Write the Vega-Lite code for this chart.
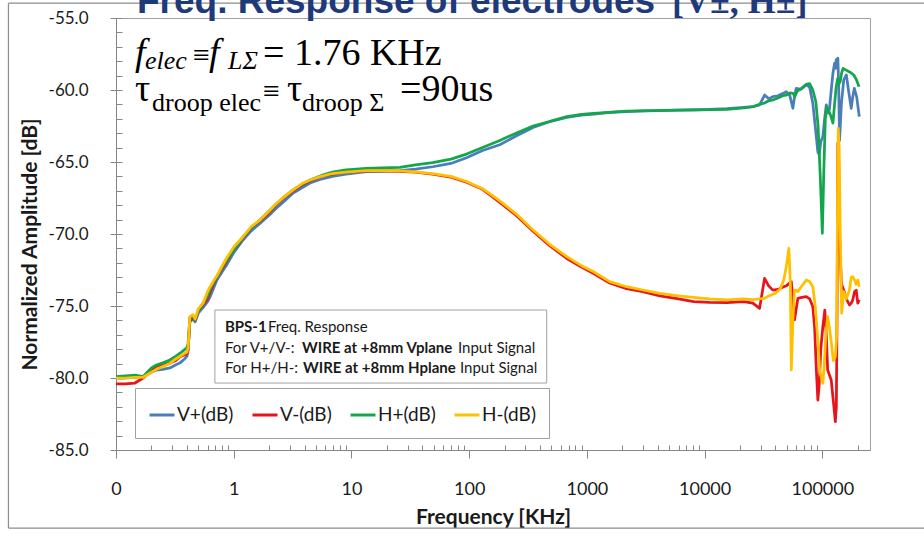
{
"$schema": "https://vega.github.io/schema/vega-lite/v6.json",
"width": 754, "height": 432,
"autosize": {"type": "none"},
"padding": {"left": 116, "top": 18, "right": 54, "bottom": 91},
"background": "white",
"config": {"view": {"stroke": "#A0A0A0", "strokeWidth": 1},
  "legend": {"orient": "none", "legendX": 19, "legendY": 370, "direction": "horizontal", "columns": 4, "symbolType": "stroke", "symbolSize": 625, "symbolStrokeWidth": 3, "labelFont": "Lato", "labelFontSize": 19, "labelColor": "#1a1a1a", "labelOffset": 1, "columnPadding": 12, "padding": 13, "strokeColor": "#A0A0A0", "fillColor": "white", "labelLimit": 200}},
"datasets": {
"one": [{}],
"curves": [
{"s":"V+(dB)","f":0.1,"v":-80.0},{"s":"V+(dB)","f":0.12,"v":-80.0},{"s":"V+(dB)","f":0.145,"v":-79.95},{"s":"V+(dB)","f":0.17,"v":-79.9},{"s":"V+(dB)","f":0.2,"v":-79.6},{"s":"V+(dB)","f":0.22,"v":-79.45},{"s":"V+(dB)","f":0.25,"v":-79.4},{"s":"V+(dB)","f":0.287,"v":-79.3},{"s":"V+(dB)","f":0.32,"v":-79.1},{"s":"V+(dB)","f":0.35,"v":-78.95},{"s":"V+(dB)","f":0.38,"v":-78.7},{"s":"V+(dB)","f":0.4,"v":-78.5},{"s":"V+(dB)","f":0.41,"v":-78.1},{"s":"V+(dB)","f":0.424,"v":-76.1},{"s":"V+(dB)","f":0.45,"v":-75.9},{"s":"V+(dB)","f":0.47,"v":-76.1},{"s":"V+(dB)","f":0.5,"v":-75.5},{"s":"V+(dB)","f":0.55,"v":-75.1},{"s":"V+(dB)","f":0.6,"v":-74.7},{"s":"V+(dB)","f":0.63,"v":-74.35},{"s":"V+(dB)","f":0.68,"v":-73.7},{"s":"V+(dB)","f":0.72,"v":-73.2},{"s":"V+(dB)","f":0.8,"v":-72.6},{"s":"V+(dB)","f":0.87,"v":-72.15},{"s":"V+(dB)","f":1,"v":-71.3},{"s":"V+(dB)","f":1.2,"v":-70.42},{"s":"V+(dB)","f":1.4,"v":-69.8},{"s":"V+(dB)","f":1.67,"v":-69.26},{"s":"V+(dB)","f":2,"v":-68.7},{"s":"V+(dB)","f":2.31,"v":-68.2},{"s":"V+(dB)","f":2.7,"v":-67.7},{"s":"V+(dB)","f":3.2,"v":-67.15},{"s":"V+(dB)","f":3.8,"v":-66.8},{"s":"V+(dB)","f":4.45,"v":-66.46},{"s":"V+(dB)","f":5.5,"v":-66.2},{"s":"V+(dB)","f":6.9,"v":-66.0},{"s":"V+(dB)","f":9,"v":-65.85},{"s":"V+(dB)","f":13.4,"v":-65.67},{"s":"V+(dB)","f":18,"v":-65.65},{"s":"V+(dB)","f":25.8,"v":-65.6},{"s":"V+(dB)","f":35,"v":-65.5},{"s":"V+(dB)","f":49,"v":-65.33},{"s":"V+(dB)","f":70,"v":-65.1},{"s":"V+(dB)","f":95,"v":-64.7},{"s":"V+(dB)","f":130,"v":-64.2},{"s":"V+(dB)","f":182,"v":-63.8},{"s":"V+(dB)","f":250,"v":-63.2},{"s":"V+(dB)","f":349,"v":-62.6},{"s":"V+(dB)","f":480,"v":-62.2},{"s":"V+(dB)","f":675,"v":-61.9},{"s":"V+(dB)","f":900,"v":-61.75},{"s":"V+(dB)","f":1140,"v":-61.67},{"s":"V+(dB)","f":1560,"v":-61.55},{"s":"V+(dB)","f":2170,"v":-61.5},{"s":"V+(dB)","f":2980,"v":-61.45},{"s":"V+(dB)","f":4170,"v":-61.42},{"s":"V+(dB)","f":6000,"v":-61.4},{"s":"V+(dB)","f":8070,"v":-61.37},{"s":"V+(dB)","f":11000,"v":-61.35},{"s":"V+(dB)","f":15500,"v":-61.3},{"s":"V+(dB)","f":21500,"v":-61.2},{"s":"V+(dB)","f":25700,"v":-61.15},
{"s":"V+(dB)","f":29300,"v":-61.04},{"s":"V+(dB)","f":32300,"v":-60.35},{"s":"V+(dB)","f":35000,"v":-60.6},{"s":"V+(dB)","f":38000,"v":-60.46},{"s":"V+(dB)","f":42000,"v":-60.4},{"s":"V+(dB)","f":46000,"v":-60.25},{"s":"V+(dB)","f":49400,"v":-60.12},{"s":"V+(dB)","f":53000,"v":-60.4},{"s":"V+(dB)","f":56200,"v":-61.27},{"s":"V+(dB)","f":58500,"v":-60.3},{"s":"V+(dB)","f":60000,"v":-59.88},{"s":"V+(dB)","f":66000,"v":-59.95},{"s":"V+(dB)","f":73000,"v":-59.65},{"s":"V+(dB)","f":78000,"v":-59.8},{"s":"V+(dB)","f":83000,"v":-60.92},{"s":"V+(dB)","f":87000,"v":-62.5},{"s":"V+(dB)","f":91600,"v":-64.3},{"s":"V+(dB)","f":94000,"v":-64.5},{"s":"V+(dB)","f":97000,"v":-63.6},{"s":"V+(dB)","f":101000,"v":-63.24},{"s":"V+(dB)","f":104500,"v":-62.0},{"s":"V+(dB)","f":108000,"v":-61.04},{"s":"V+(dB)","f":111500,"v":-61.6},{"s":"V+(dB)","f":115000,"v":-61.3},{"s":"V+(dB)","f":119000,"v":-60.0},{"s":"V+(dB)","f":123000,"v":-58.84},{"s":"V+(dB)","f":127000,"v":-58.15},{"s":"V+(dB)","f":129500,"v":-58.5},{"s":"V+(dB)","f":131000,"v":-57.92},{"s":"V+(dB)","f":135500,"v":-57.8},{"s":"V+(dB)","f":137500,"v":-59.5},{"s":"V+(dB)","f":140000,"v":-63.5},{"s":"V+(dB)","f":145000,"v":-61.0},{"s":"V+(dB)","f":152000,"v":-59.3},{"s":"V+(dB)","f":160000,"v":-58.96},{"s":"V+(dB)","f":168000,"v":-60.2},{"s":"V+(dB)","f":176000,"v":-61.27},{"s":"V+(dB)","f":181000,"v":-60.5},{"s":"V+(dB)","f":187000,"v":-59.88},{"s":"V+(dB)","f":196000,"v":-60.5},{"s":"V+(dB)","f":201000,"v":-61.2},{"s":"V+(dB)","f":206000,"v":-61.85},
{"s":"V-(dB)","f":0.1,"v":-80.4},{"s":"V-(dB)","f":0.12,"v":-80.4},{"s":"V-(dB)","f":0.145,"v":-80.35},{"s":"V-(dB)","f":0.17,"v":-80.0},{"s":"V-(dB)","f":0.2,"v":-79.5},{"s":"V-(dB)","f":0.22,"v":-79.2},{"s":"V-(dB)","f":0.25,"v":-79.1},{"s":"V-(dB)","f":0.287,"v":-78.96},{"s":"V-(dB)","f":0.32,"v":-78.8},{"s":"V-(dB)","f":0.35,"v":-78.52},{"s":"V-(dB)","f":0.38,"v":-78.4},{"s":"V-(dB)","f":0.4,"v":-78.3},{"s":"V-(dB)","f":0.41,"v":-78.0},{"s":"V-(dB)","f":0.424,"v":-76.0},{"s":"V-(dB)","f":0.45,"v":-75.8},{"s":"V-(dB)","f":0.47,"v":-76.0},{"s":"V-(dB)","f":0.5,"v":-75.3},{"s":"V-(dB)","f":0.55,"v":-74.9},{"s":"V-(dB)","f":0.6,"v":-74.5},{"s":"V-(dB)","f":0.63,"v":-74.0},{"s":"V-(dB)","f":0.68,"v":-73.4},{"s":"V-(dB)","f":0.72,"v":-72.96},{"s":"V-(dB)","f":0.8,"v":-72.4},{"s":"V-(dB)","f":0.87,"v":-71.9},{"s":"V-(dB)","f":1,"v":-71.1},{"s":"V-(dB)","f":1.2,"v":-70.25},{"s":"V-(dB)","f":1.4,"v":-69.6},{"s":"V-(dB)","f":1.67,"v":-69.1},{"s":"V-(dB)","f":2,"v":-68.5},{"s":"V-(dB)","f":2.31,"v":-67.95},{"s":"V-(dB)","f":2.7,"v":-67.45},{"s":"V-(dB)","f":3.2,"v":-67.0},{"s":"V-(dB)","f":3.8,"v":-66.6},{"s":"V-(dB)","f":4.45,"v":-66.3},{"s":"V-(dB)","f":5.5,"v":-66.0},{"s":"V-(dB)","f":6.9,"v":-65.85},{"s":"V-(dB)","f":9,"v":-65.7},{"s":"V-(dB)","f":13.4,"v":-65.62},{"s":"V-(dB)","f":18,"v":-65.62},{"s":"V-(dB)","f":25.8,"v":-65.65},{"s":"V-(dB)","f":35,"v":-65.7},{"s":"V-(dB)","f":49,"v":-65.85},{"s":"V-(dB)","f":70,"v":-66.05},{"s":"V-(dB)","f":95,"v":-66.4},{"s":"V-(dB)","f":130,"v":-66.9},{"s":"V-(dB)","f":182,"v":-67.8},{"s":"V-(dB)","f":250,"v":-68.7},{"s":"V-(dB)","f":349,"v":-69.8},{"s":"V-(dB)","f":480,"v":-70.8},{"s":"V-(dB)","f":675,"v":-71.7},{"s":"V-(dB)","f":900,"v":-72.3},{"s":"V-(dB)","f":1140,"v":-72.75},{"s":"V-(dB)","f":1560,"v":-73.4},{"s":"V-(dB)","f":2170,"v":-73.8},{"s":"V-(dB)","f":2980,"v":-74.0},{"s":"V-(dB)","f":4170,"v":-74.3},{"s":"V-(dB)","f":6000,"v":-74.5},{"s":"V-(dB)","f":8070,"v":-74.7},{"s":"V-(dB)","f":11000,"v":-74.75},{"s":"V-(dB)","f":15500,"v":-74.77},{"s":"V-(dB)","f":21500,"v":-74.7},{"s":"V-(dB)","f":25700,"v":-74.8},
{"s":"V-(dB)","f":29300,"v":-75.16},{"s":"V-(dB)","f":32300,"v":-73.08},{"s":"V-(dB)","f":35000,"v":-73.6},{"s":"V-(dB)","f":38000,"v":-73.9},{"s":"V-(dB)","f":42000,"v":-73.85},{"s":"V-(dB)","f":46000,"v":-73.7},{"s":"V-(dB)","f":49400,"v":-73.6},{"s":"V-(dB)","f":52000,"v":-73.45},{"s":"V-(dB)","f":54500,"v":-73.31},{"s":"V-(dB)","f":56200,"v":-74.5},{"s":"V-(dB)","f":58000,"v":-75.97},{"s":"V-(dB)","f":60000,"v":-75.2},{"s":"V-(dB)","f":62000,"v":-74.47},{"s":"V-(dB)","f":67000,"v":-74.4},{"s":"V-(dB)","f":73000,"v":-74.35},{"s":"V-(dB)","f":78000,"v":-74.5},{"s":"V-(dB)","f":83000,"v":-75.05},{"s":"V-(dB)","f":86000,"v":-76.5},{"s":"V-(dB)","f":89000,"v":-79.5},{"s":"V-(dB)","f":91600,"v":-81.53},{"s":"V-(dB)","f":94000,"v":-80.5},{"s":"V-(dB)","f":97000,"v":-78.0},{"s":"V-(dB)","f":101000,"v":-76.44},{"s":"V-(dB)","f":105000,"v":-75.28},{"s":"V-(dB)","f":108000,"v":-77.0},{"s":"V-(dB)","f":111000,"v":-79.44},{"s":"V-(dB)","f":115000,"v":-79.8},{"s":"V-(dB)","f":119000,"v":-80.14},{"s":"V-(dB)","f":124000,"v":-81.6},{"s":"V-(dB)","f":129000,"v":-83.03},{"s":"V-(dB)","f":131500,"v":-82.0},{"s":"V-(dB)","f":133500,"v":-75.0},{"s":"V-(dB)","f":135500,"v":-63.7},{"s":"V-(dB)","f":137500,"v":-64.5},{"s":"V-(dB)","f":140000,"v":-70.0},{"s":"V-(dB)","f":145000,"v":-73.43},{"s":"V-(dB)","f":152000,"v":-73.9},{"s":"V-(dB)","f":160000,"v":-74.5},{"s":"V-(dB)","f":170000,"v":-74.93},{"s":"V-(dB)","f":176000,"v":-74.8},{"s":"V-(dB)","f":181000,"v":-74.6},{"s":"V-(dB)","f":188000,"v":-74.0},{"s":"V-(dB)","f":194000,"v":-73.9},{"s":"V-(dB)","f":200000,"v":-74.8},{"s":"V-(dB)","f":206000,"v":-74.58},
{"s":"H+(dB)","f":0.1,"v":-79.9},{"s":"H+(dB)","f":0.12,"v":-79.85},{"s":"H+(dB)","f":0.145,"v":-79.8},{"s":"H+(dB)","f":0.17,"v":-79.9},{"s":"H+(dB)","f":0.2,"v":-79.3},{"s":"H+(dB)","f":0.22,"v":-79.1},{"s":"H+(dB)","f":0.25,"v":-78.95},{"s":"H+(dB)","f":0.287,"v":-78.75},{"s":"H+(dB)","f":0.32,"v":-78.5},{"s":"H+(dB)","f":0.35,"v":-78.28},{"s":"H+(dB)","f":0.38,"v":-78.05},{"s":"H+(dB)","f":0.4,"v":-77.9},{"s":"H+(dB)","f":0.41,"v":-77.6},{"s":"H+(dB)","f":0.424,"v":-75.8},{"s":"H+(dB)","f":0.45,"v":-75.7},{"s":"H+(dB)","f":0.47,"v":-76.0},{"s":"H+(dB)","f":0.5,"v":-75.3},{"s":"H+(dB)","f":0.55,"v":-74.8},{"s":"H+(dB)","f":0.6,"v":-74.3},{"s":"H+(dB)","f":0.63,"v":-73.8},{"s":"H+(dB)","f":0.68,"v":-73.3},{"s":"H+(dB)","f":0.72,"v":-72.96},{"s":"H+(dB)","f":0.8,"v":-72.3},{"s":"H+(dB)","f":0.87,"v":-71.8},{"s":"H+(dB)","f":1,"v":-71.1},{"s":"H+(dB)","f":1.2,"v":-70.2},{"s":"H+(dB)","f":1.4,"v":-69.6},{"s":"H+(dB)","f":1.67,"v":-69.03},{"s":"H+(dB)","f":2,"v":-68.4},{"s":"H+(dB)","f":2.31,"v":-67.9},{"s":"H+(dB)","f":2.7,"v":-67.4},{"s":"H+(dB)","f":3.2,"v":-66.94},{"s":"H+(dB)","f":3.8,"v":-66.55},{"s":"H+(dB)","f":4.45,"v":-66.25},{"s":"H+(dB)","f":5.5,"v":-65.95},{"s":"H+(dB)","f":6.9,"v":-65.7},{"s":"H+(dB)","f":9,"v":-65.55},{"s":"H+(dB)","f":13.4,"v":-65.45},{"s":"H+(dB)","f":18,"v":-65.4},{"s":"H+(dB)","f":25.8,"v":-65.37},{"s":"H+(dB)","f":35,"v":-65.2},{"s":"H+(dB)","f":49,"v":-65.05},{"s":"H+(dB)","f":70,"v":-64.8},{"s":"H+(dB)","f":95,"v":-64.45},{"s":"H+(dB)","f":130,"v":-64.0},{"s":"H+(dB)","f":182,"v":-63.5},{"s":"H+(dB)","f":250,"v":-63.0},{"s":"H+(dB)","f":349,"v":-62.5},{"s":"H+(dB)","f":480,"v":-62.2},{"s":"H+(dB)","f":675,"v":-61.85},{"s":"H+(dB)","f":900,"v":-61.7},{"s":"H+(dB)","f":1140,"v":-61.62},{"s":"H+(dB)","f":1560,"v":-61.55},{"s":"H+(dB)","f":2170,"v":-61.46},{"s":"H+(dB)","f":2980,"v":-61.45},{"s":"H+(dB)","f":4170,"v":-61.44},{"s":"H+(dB)","f":6000,"v":-61.4},{"s":"H+(dB)","f":8070,"v":-61.39},{"s":"H+(dB)","f":11000,"v":-61.36},{"s":"H+(dB)","f":15500,"v":-61.34},{"s":"H+(dB)","f":21500,"v":-61.25},{"s":"H+(dB)","f":25700,"v":-61.16},
{"s":"H+(dB)","f":29300,"v":-61.0},{"s":"H+(dB)","f":32300,"v":-60.9},{"s":"H+(dB)","f":35000,"v":-60.75},{"s":"H+(dB)","f":38000,"v":-60.69},{"s":"H+(dB)","f":42000,"v":-60.55},{"s":"H+(dB)","f":46000,"v":-60.4},{"s":"H+(dB)","f":49400,"v":-60.35},{"s":"H+(dB)","f":53000,"v":-60.2},{"s":"H+(dB)","f":56200,"v":-60.23},{"s":"H+(dB)","f":58500,"v":-60.45},{"s":"H+(dB)","f":61000,"v":-60.1},{"s":"H+(dB)","f":66000,"v":-59.9},{"s":"H+(dB)","f":73000,"v":-59.6},{"s":"H+(dB)","f":78000,"v":-59.55},{"s":"H+(dB)","f":83000,"v":-60.0},{"s":"H+(dB)","f":88000,"v":-60.8},{"s":"H+(dB)","f":92000,"v":-62.5},{"s":"H+(dB)","f":96000,"v":-66.0},{"s":"H+(dB)","f":100000,"v":-69.95},{"s":"H+(dB)","f":103000,"v":-65.5},{"s":"H+(dB)","f":106000,"v":-62.0},{"s":"H+(dB)","f":109000,"v":-61.16},{"s":"H+(dB)","f":113000,"v":-61.4},{"s":"H+(dB)","f":118000,"v":-61.8},{"s":"H+(dB)","f":123000,"v":-62.3},{"s":"H+(dB)","f":127000,"v":-61.0},{"s":"H+(dB)","f":131000,"v":-59.8},{"s":"H+(dB)","f":135000,"v":-59.2},{"s":"H+(dB)","f":138000,"v":-59.6},{"s":"H+(dB)","f":142000,"v":-59.4},{"s":"H+(dB)","f":146000,"v":-58.8},{"s":"H+(dB)","f":150000,"v":-58.5},{"s":"H+(dB)","f":158000,"v":-58.6},{"s":"H+(dB)","f":166000,"v":-58.7},{"s":"H+(dB)","f":175000,"v":-58.8},{"s":"H+(dB)","f":185000,"v":-58.96},{"s":"H+(dB)","f":195000,"v":-59.3},{"s":"H+(dB)","f":205000,"v":-59.77},
{"s":"H-(dB)","f":0.1,"v":-80.0},{"s":"H-(dB)","f":0.12,"v":-80.0},{"s":"H-(dB)","f":0.145,"v":-79.95},{"s":"H-(dB)","f":0.17,"v":-79.95},{"s":"H-(dB)","f":0.2,"v":-79.6},{"s":"H-(dB)","f":0.22,"v":-79.4},{"s":"H-(dB)","f":0.25,"v":-79.2},{"s":"H-(dB)","f":0.287,"v":-79.0},{"s":"H-(dB)","f":0.32,"v":-78.7},{"s":"H-(dB)","f":0.35,"v":-78.5},{"s":"H-(dB)","f":0.38,"v":-78.3},{"s":"H-(dB)","f":0.4,"v":-78.2},{"s":"H-(dB)","f":0.41,"v":-77.9},{"s":"H-(dB)","f":0.424,"v":-75.74},{"s":"H-(dB)","f":0.45,"v":-75.6},{"s":"H-(dB)","f":0.47,"v":-75.9},{"s":"H-(dB)","f":0.5,"v":-75.2},{"s":"H-(dB)","f":0.55,"v":-74.8},{"s":"H-(dB)","f":0.6,"v":-74.0},{"s":"H-(dB)","f":0.63,"v":-73.66},{"s":"H-(dB)","f":0.68,"v":-73.2},{"s":"H-(dB)","f":0.72,"v":-72.9},{"s":"H-(dB)","f":0.8,"v":-72.2},{"s":"H-(dB)","f":0.87,"v":-71.67},{"s":"H-(dB)","f":1,"v":-70.9},{"s":"H-(dB)","f":1.2,"v":-70.19},{"s":"H-(dB)","f":1.4,"v":-69.5},{"s":"H-(dB)","f":1.67,"v":-69.03},{"s":"H-(dB)","f":2,"v":-68.4},{"s":"H-(dB)","f":2.31,"v":-67.87},{"s":"H-(dB)","f":2.7,"v":-67.4},{"s":"H-(dB)","f":3.2,"v":-66.94},{"s":"H-(dB)","f":3.8,"v":-66.5},{"s":"H-(dB)","f":4.45,"v":-66.25},{"s":"H-(dB)","f":5.5,"v":-66.0},{"s":"H-(dB)","f":6.9,"v":-65.8},{"s":"H-(dB)","f":9,"v":-65.7},{"s":"H-(dB)","f":13.4,"v":-65.6},{"s":"H-(dB)","f":18,"v":-65.6},{"s":"H-(dB)","f":25.8,"v":-65.62},{"s":"H-(dB)","f":35,"v":-65.68},{"s":"H-(dB)","f":49,"v":-65.8},{"s":"H-(dB)","f":70,"v":-66.0},{"s":"H-(dB)","f":95,"v":-66.35},{"s":"H-(dB)","f":130,"v":-66.85},{"s":"H-(dB)","f":182,"v":-67.7},{"s":"H-(dB)","f":250,"v":-68.6},{"s":"H-(dB)","f":349,"v":-69.72},{"s":"H-(dB)","f":480,"v":-70.7},{"s":"H-(dB)","f":675,"v":-71.57},{"s":"H-(dB)","f":900,"v":-72.2},{"s":"H-(dB)","f":1140,"v":-72.62},{"s":"H-(dB)","f":1560,"v":-73.31},{"s":"H-(dB)","f":2170,"v":-73.66},{"s":"H-(dB)","f":2980,"v":-73.89},{"s":"H-(dB)","f":4170,"v":-74.12},{"s":"H-(dB)","f":6000,"v":-74.3},{"s":"H-(dB)","f":8070,"v":-74.4},{"s":"H-(dB)","f":11000,"v":-74.5},{"s":"H-(dB)","f":15500,"v":-74.58},{"s":"H-(dB)","f":21500,"v":-74.5},{"s":"H-(dB)","f":25700,"v":-74.55},
{"s":"H-(dB)","f":29300,"v":-74.5},{"s":"H-(dB)","f":32300,"v":-74.47},{"s":"H-(dB)","f":35000,"v":-74.3},{"s":"H-(dB)","f":40000,"v":-74.12},{"s":"H-(dB)","f":44000,"v":-73.8},{"s":"H-(dB)","f":47000,"v":-73.2},{"s":"H-(dB)","f":49400,"v":-72.27},{"s":"H-(dB)","f":52000,"v":-70.99},{"s":"H-(dB)","f":53500,"v":-73.5},{"s":"H-(dB)","f":54500,"v":-79.44},{"s":"H-(dB)","f":56200,"v":-76.0},{"s":"H-(dB)","f":58000,"v":-73.89},{"s":"H-(dB)","f":60000,"v":-73.9},{"s":"H-(dB)","f":62000,"v":-74.0},{"s":"H-(dB)","f":67000,"v":-73.6},{"s":"H-(dB)","f":73000,"v":-73.2},{"s":"H-(dB)","f":78000,"v":-73.3},{"s":"H-(dB)","f":83000,"v":-73.66},{"s":"H-(dB)","f":87000,"v":-75.0},{"s":"H-(dB)","f":91600,"v":-77.36},{"s":"H-(dB)","f":95000,"v":-79.5},{"s":"H-(dB)","f":101000,"v":-80.37},{"s":"H-(dB)","f":104000,"v":-79.0},{"s":"H-(dB)","f":107000,"v":-77.0},{"s":"H-(dB)","f":111000,"v":-75.74},{"s":"H-(dB)","f":115000,"v":-76.5},{"s":"H-(dB)","f":119000,"v":-77.5},{"s":"H-(dB)","f":124000,"v":-78.8},{"s":"H-(dB)","f":129000,"v":-78.52},{"s":"H-(dB)","f":132500,"v":-77.0},{"s":"H-(dB)","f":134500,"v":-68.0},{"s":"H-(dB)","f":136500,"v":-62.66},{"s":"H-(dB)","f":139000,"v":-64.0},{"s":"H-(dB)","f":142000,"v":-70.0},{"s":"H-(dB)","f":146000,"v":-75.5},{"s":"H-(dB)","f":152000,"v":-74.0},{"s":"H-(dB)","f":160000,"v":-74.5},{"s":"H-(dB)","f":170000,"v":-73.89},{"s":"H-(dB)","f":176000,"v":-73.0},{"s":"H-(dB)","f":181000,"v":-72.96},{"s":"H-(dB)","f":188000,"v":-73.2},{"s":"H-(dB)","f":194000,"v":-73.5},{"s":"H-(dB)","f":200000,"v":-73.2},{"s":"H-(dB)","f":206000,"v":-73.66}
]
},
"resolve": {"axis": {"x": "independent", "y": "independent"}},
"layer": [
{"data": {"name": "one"},
 "encoding": {
  "x": {"datum": 0.0122, "type": "quantitative", "scale": {"type": "log", "domain": [0.1, 254000], "nice": false}, "axis": null},
  "y": {"datum": -53.97, "type": "quantitative", "scale": {"domain": [-85, -55], "nice": false, "zero": false}, "axis": null}},
 "layer": [
  {"mark": {"type": "rule", "stroke": "#8C8C8C", "strokeWidth": 1.2}, "encoding": {"x2": {"datum": 800000}}},
  {"mark": {"type": "rule", "stroke": "#8C8C8C", "strokeWidth": 1.2}, "encoding": {"y2": {"datum": -90.42}}},
  {"mark": {"type": "rule", "stroke": "#8C8C8C", "strokeWidth": 1.2}, "encoding": {"y": {"datum": -90.42, "type": "quantitative", "scale": {"domain": [-85, -55], "nice": false, "zero": false}, "axis": null}, "x2": {"datum": 800000}}}]},
{"data": {"name": "curves"},
 "mark": {"type": "line", "strokeWidth": 2.75, "strokeJoin": "round", "clip": true},
 "encoding": {
  "x": {"field": "f", "type": "quantitative", "scale": {"type": "log", "domain": [0.1, 254000], "nice": false},
    "axis": {"orient": "bottom", "values": [0.1, 1, 10, 100, 1000, 10000, 100000], "labelExpr": "datum.value < 0.5 ? '0' : format(datum.value, 'd')", "tickSize": 8, "labelPadding": 22, "labelFont": "Lato", "labelFontSize": 18, "labelColor": "#1a1a1a", "domainColor": "#868686", "tickColor": "#868686", "grid": false, "title": "Frequency [KHz]", "titleFont": "Lato", "titleFontSize": 21, "titleFontWeight": "bold", "titleColor": "#1a1a1a", "titlePadding": 8, "labelFlush": false, "labelOverlap": false}},
  "y": {"field": "v", "type": "quantitative", "scale": {"domain": [-85, -55], "nice": false, "zero": false},
    "axis": {"orient": "left", "values": [-85, -80, -75, -70, -65, -60, -55], "labelExpr": "replace(format(datum.value, '.1f'), '\u2212', '-')", "tickSize": 6, "labelPadding": 22, "labelFont": "Lato", "labelFontSize": 17, "labelColor": "#1a1a1a", "domainColor": "#868686", "tickColor": "#868686", "grid": false, "title": "Normalized Amplitude [dB]", "titleFont": "Lato", "titleFontSize": 21, "titleFontWeight": "bold", "titleColor": "#1a1a1a", "titlePadding": 8, "titleY": 226, "labelFlush": false, "labelOverlap": false}},
  "color": {"field": "s", "type": "nominal", "sort": null, "scale": {"domain": ["V+(dB)", "V-(dB)", "H+(dB)", "H-(dB)"], "range": ["#4A7EBB", "#E8141B", "#14A64C", "#FFC000"]}, "legend": {"title": null}}}},
{"data": {"name": "one"},
 "mark": {"type": "point", "opacity": 0},
 "encoding": {
  "x": {"datum": 1, "type": "quantitative", "scale": {"type": "log", "domain": [0.1, 254000], "nice": false},
    "axis": {"orient": "bottom", "values": [0.2,0.3,0.4,0.5,0.6,0.7,0.8,0.9,2,3,4,5,6,7,8,9,20,30,40,50,60,70,80,90,200,300,400,500,600,700,800,900,2000,3000,4000,5000,6000,7000,8000,9000,20000,30000,40000,50000,60000,70000,80000,90000,200000], "labels": false, "domain": false, "tickSize": -5, "tickColor": "#868686", "grid": false, "title": null}},
  "y": {"datum": -70, "type": "quantitative", "scale": {"domain": [-85, -55], "nice": false, "zero": false},
    "axis": {"orient": "left", "values": [-85,-84,-83,-82,-81,-80,-79,-78,-77,-76,-75,-74,-73,-72,-71,-70,-69,-68,-67,-66,-65,-64,-63,-62,-61,-60,-59,-58,-57,-56,-55], "labels": false, "domain": false, "tickSize": -6, "tickColor": "#868686", "grid": false, "title": null}}}},
{"data": {"name": "one"},
 "mark": {"type": "rect", "fill": "white", "stroke": "#A0A0A0", "strokeWidth": 1},
 "encoding": {
  "x": {"datum": 0.692, "type": "quantitative", "scale": {"type": "log", "domain": [0.1, 254000], "nice": false}, "axis": null},
  "x2": {"datum": 456},
  "y": {"datum": -75.28, "type": "quantitative", "scale": {"domain": [-85, -55], "nice": false, "zero": false}, "axis": null},
  "y2": {"datum": -80.35}}},
{"data": {"name": "one"},
 "encoding": {
  "x": {"datum": 0.842, "type": "quantitative", "scale": {"type": "log", "domain": [0.1, 254000], "nice": false}, "axis": null},
  "y": {"datum": -76.78, "type": "quantitative", "scale": {"domain": [-85, -55], "nice": false, "zero": false}, "axis": null}},
 "layer": [
  {"mark": {"type": "text", "text": "BPS-1", "font": "Lato", "fontSize": 15, "fontWeight": "bold", "align": "left", "baseline": "alphabetic", "color": "#1a1a1a"}},
  {"mark": {"type": "text", "text": "Freq. Response", "font": "Lato", "fontSize": 15, "align": "left", "baseline": "alphabetic", "dx": 43, "color": "#1a1a1a"}}]},
{"data": {"name": "one"},
 "encoding": {
  "x": {"datum": 0.842, "type": "quantitative", "scale": {"type": "log", "domain": [0.1, 254000], "nice": false}, "axis": null},
  "y": {"datum": -78.24, "type": "quantitative", "scale": {"domain": [-85, -55], "nice": false, "zero": false}, "axis": null}},
 "layer": [
  {"mark": {"type": "text", "text": "For V+/V-:", "font": "Lato", "fontSize": 15, "align": "left", "baseline": "alphabetic", "color": "#1a1a1a"}},
  {"mark": {"type": "text", "text": "WIRE at +8mm Vplane", "font": "Lato", "fontSize": 15, "fontWeight": "bold", "align": "left", "baseline": "alphabetic", "dx": 77, "color": "#1a1a1a"}},
  {"mark": {"type": "text", "text": "Input Signal", "font": "Lato", "fontSize": 15, "align": "left", "baseline": "alphabetic", "dx": 233, "color": "#1a1a1a"}}]},
{"data": {"name": "one"},
 "encoding": {
  "x": {"datum": 0.842, "type": "quantitative", "scale": {"type": "log", "domain": [0.1, 254000], "nice": false}, "axis": null},
  "y": {"datum": -79.63, "type": "quantitative", "scale": {"domain": [-85, -55], "nice": false, "zero": false}, "axis": null}},
 "layer": [
  {"mark": {"type": "text", "text": "For H+/H-:", "font": "Lato", "fontSize": 15, "align": "left", "baseline": "alphabetic", "color": "#1a1a1a"}},
  {"mark": {"type": "text", "text": "WIRE at +8mm Hplane", "font": "Lato", "fontSize": 15, "fontWeight": "bold", "align": "left", "baseline": "alphabetic", "dx": 78, "color": "#1a1a1a"}},
  {"mark": {"type": "text", "text": "Input Signal", "font": "Lato", "fontSize": 15, "align": "left", "baseline": "alphabetic", "dx": 235, "color": "#1a1a1a"}}]},
{"data": {"name": "one"},
 "encoding": {
  "x": {"datum": 0.145, "type": "quantitative", "scale": {"type": "log", "domain": [0.1, 254000], "nice": false}, "axis": null},
  "y": {"datum": -58.26, "type": "quantitative", "scale": {"domain": [-85, -55], "nice": false, "zero": false}, "axis": null}},
 "layer": [
  {"mark": {"type": "text", "text": "f", "font": "Liberation Serif", "fontStyle": "italic", "fontSize": 38, "align": "left", "baseline": "alphabetic", "color": "black"}},
  {"mark": {"type": "text", "text": "elec", "font": "Liberation Serif", "fontStyle": "italic", "fontSize": 26, "align": "left", "baseline": "alphabetic", "dx": 10, "dy": 4, "color": "black"}},
  {"mark": {"type": "text", "text": "≡", "font": "Liberation Serif", "fontSize": 30, "align": "left", "baseline": "alphabetic", "dx": 58, "color": "black"}},
  {"mark": {"type": "text", "text": "f", "font": "Liberation Serif", "fontStyle": "italic", "fontSize": 38, "align": "left", "baseline": "alphabetic", "dx": 74, "color": "black"}},
  {"mark": {"type": "text", "text": "LΣ", "font": "Liberation Serif", "fontStyle": "italic", "fontSize": 26, "align": "left", "baseline": "alphabetic", "dx": 93, "dy": 4, "color": "black"}},
  {"mark": {"type": "text", "text": "= 1.76 KHz", "font": "Liberation Serif", "fontSize": 38, "align": "left", "baseline": "alphabetic", "dx": 128, "color": "black"}}]},
{"data": {"name": "one"},
 "encoding": {
  "x": {"datum": 0.145, "type": "quantitative", "scale": {"type": "log", "domain": [0.1, 254000], "nice": false}, "axis": null},
  "y": {"datum": -60.76, "type": "quantitative", "scale": {"domain": [-85, -55], "nice": false, "zero": false}, "axis": null}},
 "layer": [
  {"mark": {"type": "text", "text": "τ", "font": "Liberation Serif", "fontSize": 38, "align": "left", "baseline": "alphabetic", "color": "black"}},
  {"mark": {"type": "text", "text": "droop elec", "font": "Liberation Serif", "fontSize": 26, "align": "left", "baseline": "alphabetic", "dx": 17, "dy": 10, "color": "black"}},
  {"mark": {"type": "text", "text": "≡", "font": "Liberation Serif", "fontSize": 30, "align": "left", "baseline": "alphabetic", "dx": 128, "color": "black"}},
  {"mark": {"type": "text", "text": "τ", "font": "Liberation Serif", "fontSize": 38, "align": "left", "baseline": "alphabetic", "dx": 152, "color": "black"}},
  {"mark": {"type": "text", "text": "droop Σ", "font": "Liberation Serif", "fontSize": 26, "align": "left", "baseline": "alphabetic", "dx": 167, "dy": 10, "color": "black"}},
  {"mark": {"type": "text", "text": "=90us", "font": "Liberation Serif", "fontSize": 38, "align": "left", "baseline": "alphabetic", "dx": 265, "color": "black"}}]},
{"data": {"name": "one"},
 "encoding": {
  "x": {"datum": 0.1508, "type": "quantitative", "scale": {"type": "log", "domain": [0.1, 254000], "nice": false}, "axis": null},
  "y": {"datum": -54.653, "type": "quantitative", "scale": {"domain": [-85, -55], "nice": false, "zero": false}, "axis": null}},
 "layer": [
  {"mark": {"type": "text", "text": "Freq. Response of electrodes", "font": "Liberation Sans", "fontSize": 37, "fontWeight": "bold", "align": "left", "baseline": "alphabetic", "color": "#1F3A7A"}},
  {"mark": {"type": "text", "text": "[V±, H±]", "font": "Liberation Serif", "fontSize": 36, "fontWeight": "bold", "align": "left", "baseline": "alphabetic", "dx": 535, "color": "#1F3A7A"}}]}
]
}
